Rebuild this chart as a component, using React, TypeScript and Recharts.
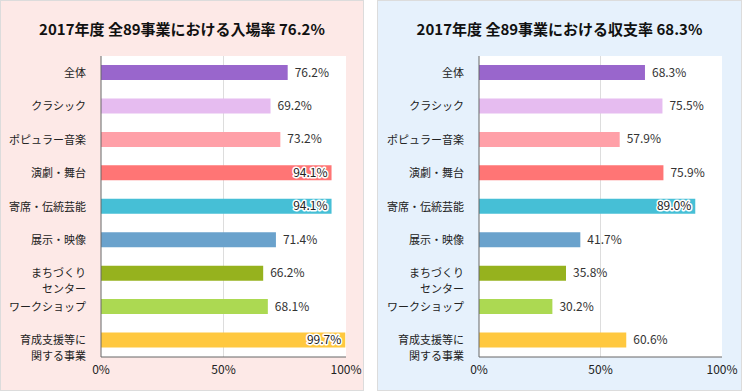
import React from "react";
import { BarChart, Bar, XAxis, YAxis, CartesianGrid, LabelList, Cell } from "recharts";

const categories = [
  "全体",
  "クラシック",
  "ポピュラー音楽",
  "演劇・舞台",
  "寄席・伝統芸能",
  "展示・映像",
  "まちづくり\nセンター",
  "ワークショップ",
  "育成支援等に\n関する事業",
];
const attendanceRate = [76.2, 69.2, 73.2, 94.1, 94.1, 71.4, 66.2, 68.1, 99.7];
const balanceRate = [68.3, 75.5, 57.9, 75.9, 89.0, 41.7, 35.8, 30.2, 60.6];
const barColors = ["#9966cc", "#e6bcf0", "#ffa0a8", "#ff7575", "#46bfd6", "#6aa2cc", "#96b21e", "#acd952", "#ffc83f"];
const xTicks = [0, 50, 100];
const titles = ["2017年度 全89事業における入場率 76.2%", "2017年度 全89事業における収支率 68.3%"];

const FONT = "'Noto Sans CJK JP', 'Noto Sans', sans-serif";

const makeData = (vals: number[]) => categories.map((name, i) => ({ name, value: vals[i], color: barColors[i] }));

const CatTick = (props: any) => {
  const { x, y, payload } = props;
  const lines = String(payload.value).split("\n");
  return (
    <g>
      {lines.map((l, i) => (
        <text key={i} x={x - 7} y={y + i * 16} dy={4} textAnchor="end" fontSize={11} fill="#222" fontFamily={FONT}>
          {l}
        </text>
      ))}
    </g>
  );
};

const ValueLabel = (props: any) => {
  const { x, y, width, height, value } = props;
  const cy = y + height / 2 + 4;
  const txt = `${Number(value).toFixed(1)}%`;
  if (value >= 85) {
    return (
      <text x={x + width - 4} y={cy} textAnchor="end" fontSize={12} fill="#222" stroke="#fff" strokeWidth={3} strokeLinejoin="round" paintOrder="stroke" fontFamily={FONT}>
        {txt}
      </text>
    );
  }
  return (
    <text x={x + width + 7} y={cy} textAnchor="start" fontSize={12} fill="#333" fontFamily={FONT}>
      {txt}
    </text>
  );
};

const midGrid = (args: any) => {
  const o = args.offset;
  return [o.left + o.width / 2];
};

const Panel = ({ left, width, bg, title, vals, yWidth, right }: any) => (
  <div style={{ position: "absolute", left, top: 0, width, height: 391 }}>
    <div style={{ position: "absolute", left: 0, top: 0, width, height: 391, boxSizing: "border-box", background: bg, border: "1px solid #dcdcdc" }} />
    <div style={{ position: "absolute", left: 0, top: 19, width, textAlign: "center", fontFamily: FONT, fontWeight: 700, fontSize: 15, color: "#111", lineHeight: "20px" }}>
      {title}
    </div>
    <div style={{ position: "absolute", left: 0, top: 0 }}>
      <BarChart width={width} height={391} data={makeData(vals)} layout="vertical" margin={{ top: 56, right: right, bottom: 0, left: 0 }} barCategoryGap={0}>
        <CartesianGrid horizontal={false} vertical={true} fill="#ffffff" stroke="#dddddd" verticalCoordinatesGenerator={midGrid} />
        <XAxis type="number" domain={[0, 100]} ticks={xTicks} tickFormatter={(v) => `${v}%`} height={34} axisLine={{ stroke: "#666" }} tickLine={false} tick={{ fontSize: 12, fill: "#222", fontFamily: FONT }} interval={0} />
        <YAxis type="category" dataKey="name" width={yWidth} axisLine={{ stroke: "#666" }} tickLine={false} tick={<CatTick />} interval={0} />
        <Bar dataKey="value" barSize={15} isAnimationActive={false}>
          {categories.map((c, i) => (
            <Cell key={c} fill={barColors[i]} />
          ))}
          <LabelList dataKey="value" content={<ValueLabel />} />
        </Bar>
      </BarChart>
    </div>
  </div>
);

export default function App() {
  return (
    <div style={{ position: "absolute", left: 0, top: 0, width: 742, height: 391, background: "#fff", overflow: "hidden" }}>
      <Panel left={0} width={364} bg="#fde9e7" title={titles[0]} vals={attendanceRate} yWidth={101} right={18} />
      <Panel left={377} width={365} bg="#e6f1fc" title={titles[1]} vals={balanceRate} yWidth={102} right={20} />
    </div>
  );
}
